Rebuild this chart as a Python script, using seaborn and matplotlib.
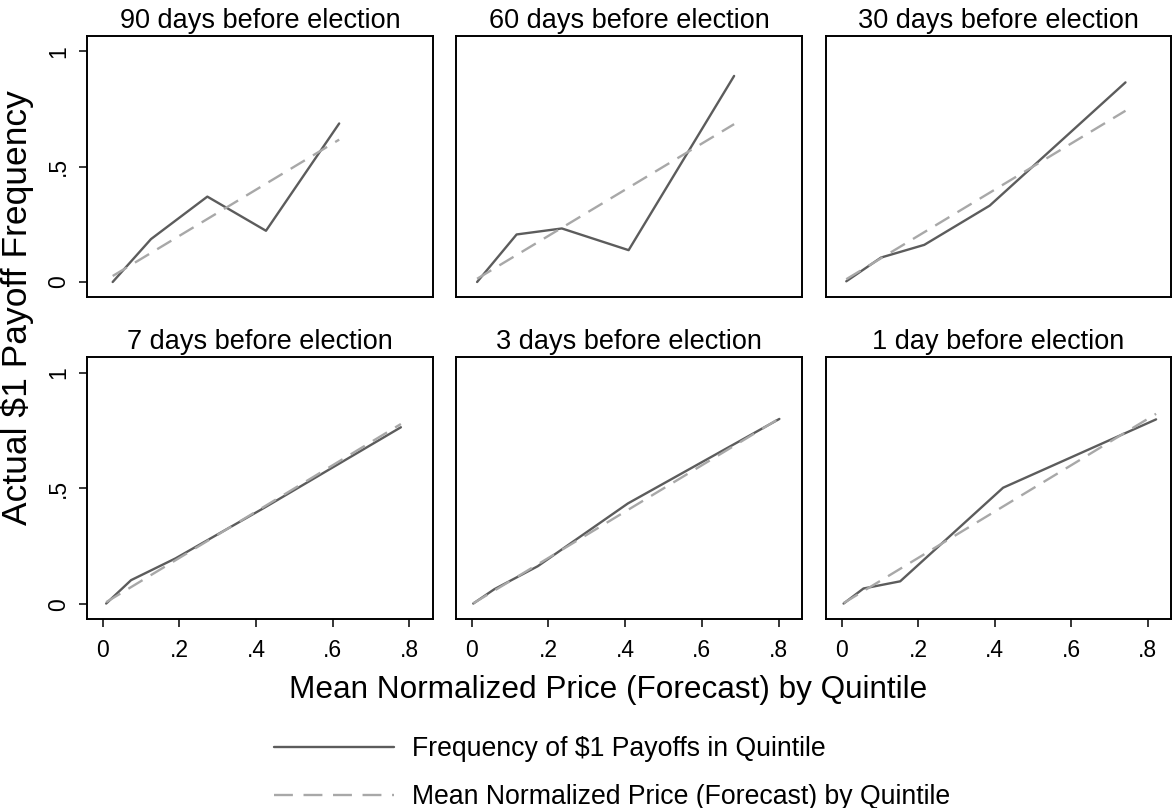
import matplotlib
matplotlib.use("Agg")
import matplotlib.pyplot as plt
from matplotlib.lines import Line2D
import numpy as np
import pandas as pd
import seaborn as sns

# Quintile means: forecast price (x) and realised $1 payoff frequency (y)
horizons = ["90 days before election", "60 days before election", "30 days before election",
            "7 days before election", "3 days before election", "1 day before election"]

price_90 = [0.026, 0.126, 0.273, 0.426, 0.617]
payoff_90 = [0.000, 0.186, 0.370, 0.222, 0.687]
price_60 = [0.014, 0.117, 0.235, 0.409, 0.684]
payoff_60 = [0.000, 0.206, 0.232, 0.138, 0.893]
price_30 = [0.012, 0.103, 0.216, 0.387, 0.742]
payoff_30 = [0.003, 0.106, 0.161, 0.331, 0.865]
price_7 = [0.009, 0.074, 0.190, 0.420, 0.778]
payoff_7 = [0.003, 0.104, 0.198, 0.415, 0.764]
price_3 = [0.004, 0.059, 0.172, 0.407, 0.802]
payoff_3 = [0.003, 0.065, 0.164, 0.435, 0.800]
price_1 = [0.005, 0.057, 0.153, 0.422, 0.822]
payoff_1 = [0.003, 0.068, 0.099, 0.503, 0.798]

xticks = [0, 0.2, 0.4, 0.6, 0.8]
xtick_labels = ["0", ".2", ".4", ".6", ".8"]
yticks = [0, 0.5, 1]
ytick_labels = ["0", ".5", "1"]

prices = [price_90, price_60, price_30, price_7, price_3, price_1]
payoffs = [payoff_90, payoff_60, payoff_30, payoff_7, payoff_3, payoff_1]

rows = []
for h, px, py in zip(horizons, prices, payoffs):
    for a, b in zip(px, py):
        rows.append({"horizon": h, "price": a, "payoff": b})
df = pd.DataFrame(rows)

sns.set_style("ticks")
plt.rcParams["font.family"] = ["Liberation Sans", "DejaVu Sans"]
plt.rcParams["text.color"] = "black"
plt.rcParams["xtick.color"] = "black"
plt.rcParams["ytick.color"] = "black"
plt.rcParams["axes.labelcolor"] = "black"

W, H = 1172, 808
fig = plt.figure(figsize=(W / 100, H / 100), dpi=100)

col_px = [(87, 432.7), (456, 802), (826, 1171)]
row_px = [(36, 297), (357.3, 619.3)]

solid_c = "#5c5c5c"
dash_c = "#a8a8a8"

for i, h in enumerate(horizons):
    r, c = divmod(i, 3)
    x0, x1 = col_px[c]
    t0, b0 = row_px[r]
    ax = fig.add_axes([x0 / W, 1 - b0 / H, (x1 - x0) / W, (b0 - t0) / H])
    sub = df[df["horizon"] == h]
    sns.lineplot(data=sub, x="price", y="payoff", ax=ax, color=solid_c,
                 linewidth=1.7, sort=False, estimator=None)
    sns.lineplot(data=sub, x="price", y="price", ax=ax, color=dash_c,
                 linewidth=1.7, sort=False, estimator=None,
                 linestyle=(0, (7, 4)))
    ax.set_xlim(-0.041, 0.861)
    ax.set_ylim(-0.065, 1.066)
    ax.set_xlabel("")
    ax.set_ylabel("")
    ax.set_title(h, fontsize=19.5, pad=6, color="black")
    for s in ax.spines.values():
        s.set_visible(True)
        s.set_color("black")
        s.set_linewidth(1.4)
    ax.set_xticks(xticks)
    ax.set_yticks(yticks)
    ax.tick_params(axis="both", direction="out", length=6, width=1.1,
                   color="black", labelcolor="black", labelsize=16.5, pad=6)
    if r == 1:
        ax.set_xticklabels(xtick_labels)
        ax.tick_params(axis="x", pad=8)
    else:
        ax.tick_params(axis="x", bottom=False, labelbottom=False)
    if c == 0:
        ax.set_yticklabels(ytick_labels, rotation=90, va="center")
    else:
        ax.tick_params(axis="y", left=False, labelleft=False)

fig.text(608 / W, 1 - 690 / H, "Mean Normalized Price (Forecast) by Quintile",
         ha="center", va="center", fontsize=22.7, color="black")
fig.text(17 / W, 1 - 308 / H, "Actual $1 Payoff Frequency",
         ha="center", va="center", rotation=90, fontsize=25.5, color="black")

handles = [Line2D([], [], color=solid_c, linewidth=1.7),
           Line2D([], [], color=dash_c, linewidth=1.7, linestyle=(0, (8, 4.5)))]
labels = ["Frequency of $1 Payoffs in Quintile",
          "Mean Normalized Price (Forecast) by Quintile"]
fig.legend(handles, labels, loc="center left",
           bbox_to_anchor=(255 / W, 1 - 773 / H), frameon=False,
           fontsize=19.2, handlelength=4.5, handletextpad=0.7,
           labelspacing=0.82, borderpad=0.2, labelcolor="black")

fig.savefig("out.png", dpi=100)
